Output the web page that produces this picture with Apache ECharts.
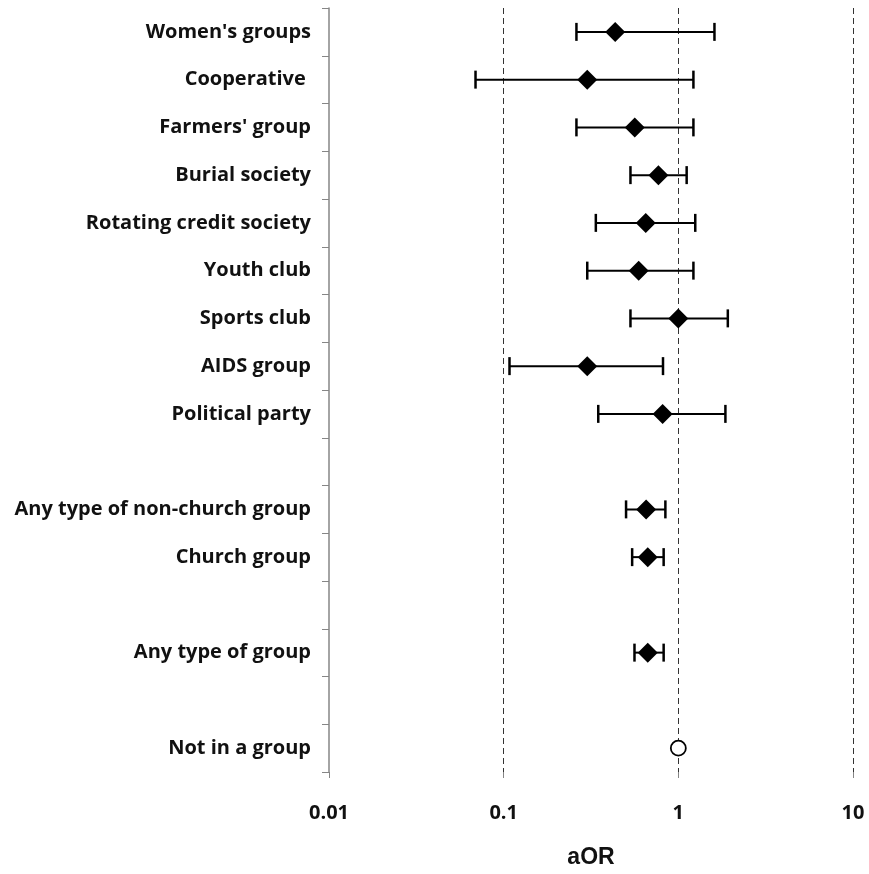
<!DOCTYPE html>
<html>
<head>
<meta charset="utf-8">
<script src="https://cdn.jsdelivr.net/npm/echarts@6/dist/echarts.min.js"></script>
<style>html,body{margin:0;padding:0;background:#fff}#c{width:869px;height:874px}</style>
</head>
<body>
<div id="c"></div>
<script>
var categories = ["Women's groups", "Cooperative ", "Farmers' group", "Burial society", "Rotating credit society", "Youth club", "Sports club", "AIDS group", "Political party", " ", "Any type of non-church group", "Church group", "  ", "Any type of group", "   ", "Not in a group"];
var aOR  = [0.435, 0.301, 0.563, 0.769, 0.651, 0.593, 1.0, 0.301, 0.813, null, 0.654, 0.668, null, 0.668, null, null];
var lower = [0.261, 0.069, 0.261, 0.532, 0.337, 0.301, 0.532, 0.108, 0.348, null, 0.502, 0.544, null, 0.561, null, null];
var upper = [1.61, 1.22, 1.22, 1.116, 1.25, 1.22, 1.92, 0.817, 1.86, null, 0.843, 0.824, null, 0.824, null, null];
var referenceIndex = 15;
var referenceValue = 1.0;
var xTicks = [0.01, 0.1, 1, 10];

var pointData = [], ciData = [];
for (var i = 0; i < categories.length; i++) {
  if (aOR[i] != null) pointData.push([aOR[i], i]);
  if (lower[i] != null) ciData.push([lower[i], upper[i], i]);
}

var chart = echarts.init(document.getElementById('c'), null, {renderer: 'canvas'});
var labelFont = '"Open Sans", "Noto Sans", sans-serif';
chart.setOption({
  backgroundColor: '#fff',
  animation: false,
  grid: {left: 329, right: 16, top: 8, bottom: 95, containLabel: false},
  xAxis: {
    type: 'log', logBase: 10, min: xTicks[0], max: xTicks[xTicks.length - 1],
    name: 'aOR', nameLocation: 'middle', nameGap: 74,
    nameTextStyle: {fontFamily: '"Liberation Sans", Arial, sans-serif', fontWeight: 'bold', fontSize: 23, color: '#111'},
    axisLine: {lineStyle: {color: '#868686', width: 1.5}},
    axisTick: {show: true, length: 6, lineStyle: {color: '#868686', width: 1}},
    axisLabel: {fontFamily: labelFont, fontWeight: 'bold', fontSize: 20, color: '#111', margin: 31,
      formatter: function (v) { return String(+v.toPrecision(3)); }},
    splitLine: {show: true, showMinLine: false, lineStyle: {type: [6, 4], color: '#333', width: 1}},
    minorTick: {show: false}
  },
  yAxis: {
    type: 'category', data: categories, inverse: true, boundaryGap: true,
    axisLine: {lineStyle: {color: '#868686', width: 1.5}},
    axisTick: {show: true, length: 7, lineStyle: {color: '#868686', width: 1}},
    axisLabel: {fontFamily: labelFont, fontWeight: 'bold', fontSize: 20, color: '#111', margin: 18},
    splitLine: {show: false}
  },
  series: [
    {
      type: 'custom', z: 2,
      data: ciData,
      encode: {x: [0, 1], y: 2},
      renderItem: function (params, api) {
        var idx = api.value(2);
        var p1 = api.coord([api.value(0), idx]);
        var p2 = api.coord([api.value(1), idx]);
        var h = 9;
        return {type: 'group', children: [
          {type: 'line', shape: {x1: p1[0], y1: p1[1], x2: p2[0], y2: p2[1]}, style: {stroke: '#000', lineWidth: 2}},
          {type: 'line', shape: {x1: p1[0], y1: p1[1] - h, x2: p1[0], y2: p1[1] + h}, style: {stroke: '#000', lineWidth: 2.5}},
          {type: 'line', shape: {x1: p2[0], y1: p2[1] - h, x2: p2[0], y2: p2[1] + h}, style: {stroke: '#000', lineWidth: 2.5}}
        ]};
      }
    },
    {
      type: 'scatter', z: 3, symbol: 'diamond', symbolSize: [20, 20],
      itemStyle: {color: '#000', opacity: 1},
      data: pointData
    },
    {
      type: 'scatter', z: 3, symbol: 'circle', symbolSize: 15,
      itemStyle: {color: '#fff', borderColor: '#000', borderWidth: 1.8, opacity: 1},
      data: [[referenceValue, referenceIndex]]
    }
  ]
});
</script>
</body>
</html>
